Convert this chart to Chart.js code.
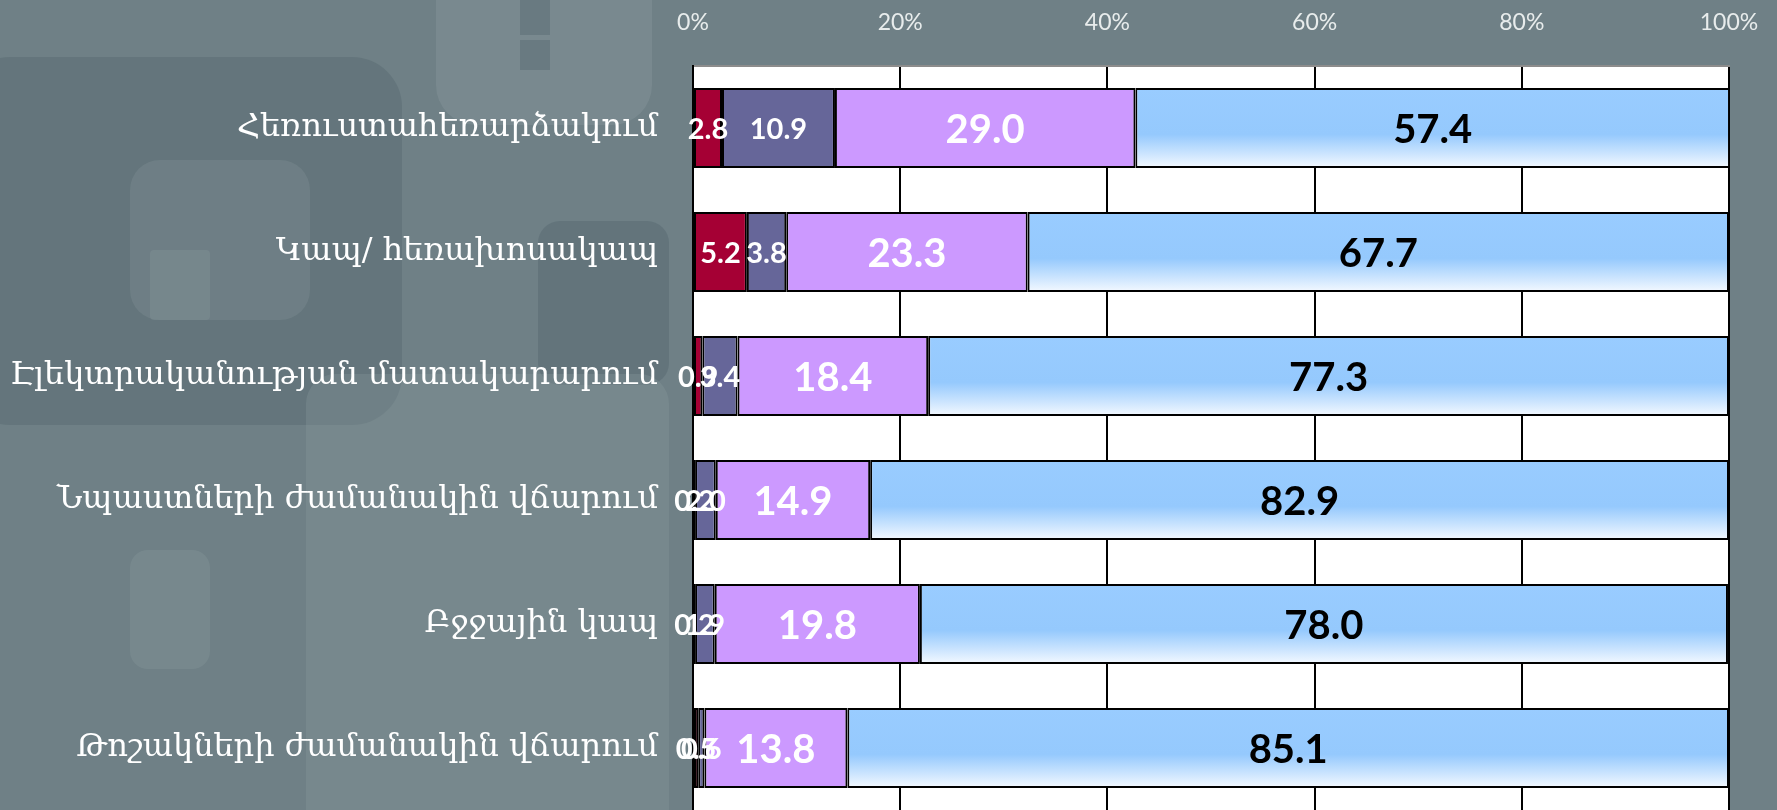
<!DOCTYPE html>
<html>
<head>
<meta charset="utf-8">
<script src="https://cdn.jsdelivr.net/npm/chart.js@4.4.1/dist/chart.umd.min.js"></script>
<style>
    html, body { margin: 0; padding: 0; background: #6f8086; overflow: hidden; }
    #wrap { width: 1777px; height: 810px; }
</style>
</head>
<body>
<div id="wrap"><canvas id="barChart" width="1777" height="810"></canvas></div>
<script>
// categories and the four stacked series (percent of answers)
const categories = [
    "Հեռուստահեռարձակում",
    "Կապ/ հեռախոսակապ",
    "Էլեկտրականության մատակարարում",
    "Նպաստների ժամանակին վճարում",
    "Բջջային կապ",
    "Թոշակների ժամանակին վճարում"
];
const seriesRed = [2.8, 5.2, 0.9, 0.2, 0.2, 0.5];
const seriesSlate = [10.9, 3.8, 3.4, 2.0, 1.9, 0.6];
const seriesLilac = [29.0, 23.3, 18.4, 14.9, 19.8, 13.8];
const seriesBlue = [57.4, 67.7, 77.3, 82.9, 78.0, 85.1];
const tickValues = [0, 20, 40, 60, 80, 100];

const BAR_PCT = 0.645;
const PLOT_LEFT = 693;
const PLOT_TOP = 66;

// light blue bars fade to white near their lower edge
function blueFill(ctx) {
    const chart = ctx.chart;
    const area = chart.chartArea;
    if (!area || ctx.dataIndex === undefined) return "#99ccff";
    const yc = chart.scales.y.getPixelForValue(ctx.dataIndex);
    const h = (area.bottom - area.top) / categories.length * BAR_PCT;
    const g = chart.ctx.createLinearGradient(0, yc - h / 2, 0, yc + h / 2);
    g.addColorStop(0, "#99ccff");
    g.addColorStop(0.58, "#95c9fd");
    g.addColorStop(1, "#f4f9ff");
    return g;
}

// backdrop with faint rounded shapes and the white plot area
const backdrop = {
    id: "backdrop",
    beforeDraw(chart) {
        const c = chart.ctx;
        const a = chart.chartArea;
        c.save();
        c.fillStyle = "#6f8086";
        c.fillRect(0, 0, chart.width, chart.height);
        const shapes = [
            [-40, 57, 442, 368, 50, "rgba(80,98,105,0.35)"],
            [436, -40, 216, 165, 40, "rgba(140,155,160,0.35)"],
            [520, 0, 30, 35, 0, "rgba(90,108,115,0.5)"],
            [520, 40, 30, 30, 0, "rgba(90,108,115,0.5)"],
            [130, 160, 180, 160, 30, "rgba(140,155,160,0.25)"],
            [150, 250, 60, 70, 4, "rgba(140,155,160,0.3)"],
            [538, 221, 131, 164, 22, "rgba(85,102,110,0.45)"],
            [306, 374, 363, 480, 30, "rgba(140,155,160,0.3)"],
            [130, 550, 80, 119, 18, "rgba(140,155,160,0.3)"]
        ];
        shapes.forEach(([x, y, w, h, r, col]) => {
            c.fillStyle = col;
            c.beginPath();
            c.roundRect(x, y, w, h, r);
            c.fill();
        });
        c.fillStyle = "#ffffff";
        c.fillRect(a.left, a.top, a.right - a.left, a.bottom - a.top);
        c.restore();
    }
};

// value text centred on every segment
const segmentLabels = {
    id: "segmentLabels",
    afterDatasetsDraw(chart) {
        const c = chart.ctx;
        c.save();
        c.textAlign = "center";
        c.textBaseline = "middle";
        chart.data.datasets.forEach((ds, di) => {
            const meta = chart.getDatasetMeta(di);
            c.fillStyle = ds.labelColor;
            c.font = "bold " + ds.labelSize + "px Lato";
            meta.data.forEach((bar, i) => {
                const x = (bar.x + bar.base) / 2;
                c.fillText(ds.data[i].toFixed(1), x, bar.y + 2);
            });
        });
        c.restore();
    }
};

const ctxBar = document.getElementById("barChart").getContext("2d");
new Chart(ctxBar, {
    type: "bar",
    data: {
        labels: categories,
        datasets: [
            { label: "s1", data: seriesRed, backgroundColor: "#a50034", labelColor: "#ffffff", labelSize: 29 },
            { label: "s2", data: seriesSlate, backgroundColor: "#666699", labelColor: "#ffffff", labelSize: 29 },
            { label: "s3", data: seriesLilac, backgroundColor: "#cc99ff", labelColor: "#ffffff", labelSize: 40 },
            { label: "s4", data: seriesBlue, backgroundColor: blueFill, labelColor: "#000000", labelSize: 40 }
        ]
    },
    options: {
        indexAxis: "y",
        responsive: false,
        animation: false,
        layout: { padding: { left: 0, right: 48, top: 0, bottom: 0 } },
        datasets: {
            bar: {
                barPercentage: BAR_PCT,
                categoryPercentage: 1,
                borderColor: "#000000",
                borderWidth: 2,
                borderSkipped: false
            }
        },
        plugins: {
            legend: { display: false },
            tooltip: { enabled: false }
        },
        scales: {
            x: {
                position: "top",
                stacked: true,
                min: 0,
                max: 100,
                afterBuildTicks: scale => {
                    scale.ticks = tickValues.map(v => ({ value: v }));
                },
                afterFit: scale => {
                    scale.height = PLOT_TOP;
                    scale.paddingLeft = 0;
                    scale.paddingRight = 0;
                },
                ticks: {
                    color: "#e8ecec",
                    padding: 30,
                    font: { family: "Lato", size: 23 },
                    callback: v => v + "%"
                },
                grid: { color: "#000000", lineWidth: 2, drawTicks: false },
                border: { color: "#8c8c8c", width: 2 }
            },
            y: {
                stacked: true,
                afterFit: scale => {
                    scale.width = PLOT_LEFT;
                    scale.paddingTop = 0;
                    scale.paddingBottom = 0;
                },
                ticks: {
                    color: "#ffffff",
                    padding: 27,
                    autoSkip: false,
                    font: { family: "'DejaVu Serif', 'DejaVu Sans'", size: 32 }
                },
                grid: { display: false },
                border: { color: "#000000", width: 2 }
            }
        }
    },
    plugins: [backdrop, segmentLabels]
});
</script>
</body>
</html>
